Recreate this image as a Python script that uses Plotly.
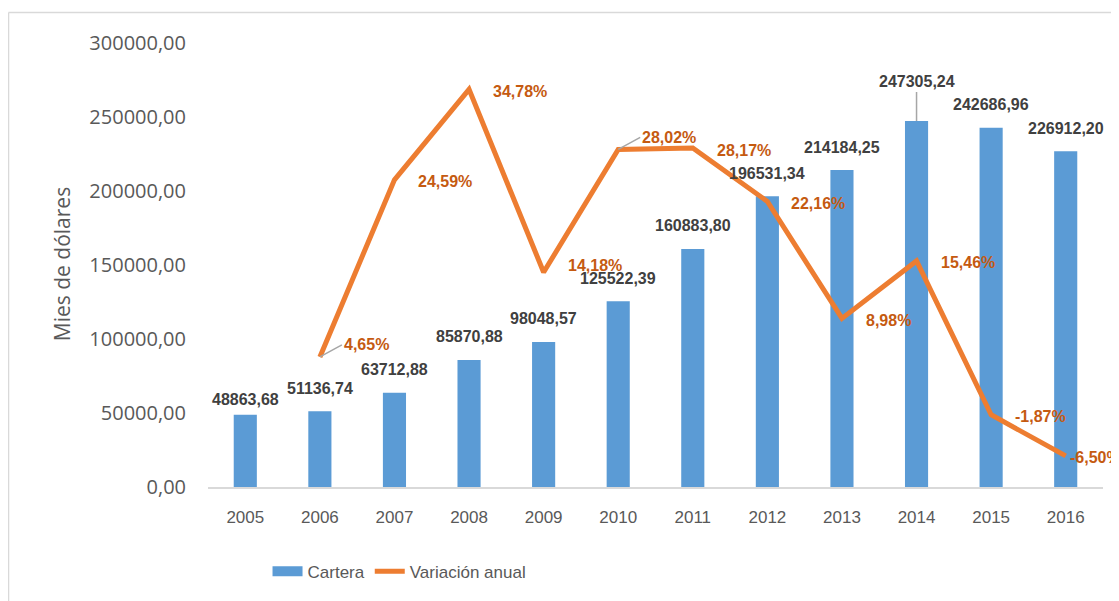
import plotly.graph_objects as go

# ---- data ----
years = [2005, 2006, 2007, 2008, 2009, 2010,
         2011, 2012, 2013, 2014, 2015, 2016]
cartera = [48863.68, 51136.74, 63712.88, 85870.88, 98048.57, 125522.39,
           160883.80, 196531.34, 214184.25, 247305.24, 242686.96, 226912.20]
variacion = [None, 4.65, 24.59, 34.78, 14.18, 28.02,
             28.17, 22.16, 8.98, 15.46, -1.87, -6.50]
y_ticks = [0, 50000, 100000, 150000, 200000, 250000, 300000]
series_names = ["Cartera", "Variación anual"]
y_title = "Mies de dólares"


def fmt_num(v):
    return f"{v:.2f}".replace(".", ",")


def fmt_pct(v):
    return f"{v:.2f}%".replace(".", ",")


BLUE = "#5B9BD5"
ORANGE = "#ED7D31"
PCT_COLOR = "#C55A11"
LBL_COLOR = "#404040"
AX_TEXT = "#595959"
SANS = "Liberation Sans"

fig = go.Figure()
fig.add_trace(go.Bar(x=years, y=cartera, name=series_names[0],
                     marker=dict(color=BLUE, line=dict(width=0)),
                     width=0.31, yaxis="y", showlegend=False))
# legend swatch for the bars (wide rectangle like the original)
fig.add_trace(go.Scatter(x=[None], y=[None], name=series_names[0],
                         mode="lines", line=dict(color=BLUE, width=14),
                         yaxis="y", legendrank=1))
fig.add_trace(go.Scatter(x=years, y=variacion, name=series_names[1],
                         mode="lines", line=dict(color=ORANGE, width=5),
                         yaxis="y2", legendrank=2))

annotations = []
# bar value labels
for yr, v in zip(years, cartera):
    common = dict(x=yr, y=v, xref="x", yref="y", text=fmt_num(v),
                  font=dict(family=SANS, size=16, color=LBL_COLOR, weight="bold"))
    if yr == 2014:
        annotations.append(dict(**common, showarrow=True, ax=0, ay=-39,
                                arrowhead=0, arrowwidth=1.5, arrowcolor="#A6A6A6",
                                xanchor="center", yanchor="middle", standoff=0))
    else:
        lift = 15 if yr == 2005 else 23
        annotations.append(dict(**common, showarrow=False, yanchor="middle", yshift=lift))

# percentage labels
for yr, v in zip(years, variacion):
    if v is None:
        continue
    common = dict(x=yr, y=v, xref="x", yref="y2", text=fmt_pct(v),
                  font=dict(family=SANS, size=16, color=PCT_COLOR, weight="bold"),
                  xanchor="left", yanchor="middle")
    if yr in (2006, 2010):
        annotations.append(dict(**common, showarrow=True, ax=22, ay=-12,
                                arrowhead=0, arrowwidth=1.5, arrowcolor="#A6A6A6",
                                standoff=0))
    else:
        xs = 2 if yr == 2016 else 22
        ys = 7 if yr == 2009 else -2
        annotations.append(dict(**common, showarrow=False, xshift=xs, yshift=ys))

# axis title
annotations.append(dict(x=-0.163, y=0.502, xref="paper", yref="paper",
                        text=y_title, textangle=-90, showarrow=False,
                        xanchor="center", yanchor="middle",
                        font=dict(family="Open Sans", size=21, color=AX_TEXT)))

fig.update_layout(
    width=1111, height=593,
    paper_bgcolor="white", plot_bgcolor="white",
    margin=dict(l=200, r=16, t=35, b=114, autoexpand=False),
    showlegend=True,
    legend=dict(orientation="h", x=0.214, xanchor="center", y=-0.191,
                yanchor="middle", font=dict(family=SANS, size=17, color=AX_TEXT),
                itemwidth=30, tracegroupgap=0, bgcolor="rgba(0,0,0,0)"),
    xaxis=dict(type="linear", range=[2004.5, 2016.5], tickvals=years,
               ticktext=[str(y) for y in years],
               showgrid=False, showline=True,
               linecolor="#D9D9D9", linewidth=1.5, ticks="",
               tickfont=dict(family=SANS, size=17, color=AX_TEXT),
               ticklabelstandoff=14, zeroline=False),
    yaxis=dict(range=[0, 300000], tickvals=y_ticks,
               ticktext=[fmt_num(t) for t in y_ticks],
               showgrid=False, showline=False, zeroline=False, ticks="",
               tickfont=dict(family="Open Sans", size=20, color=AX_TEXT),
               ticklabelstandoff=21),
    yaxis2=dict(range=[-10, 40], overlaying="y", side="right", visible=False,
                showgrid=False, zeroline=False),
    annotations=annotations,
    shapes=[
        dict(type="line", xref="paper", yref="paper", x0=-0.2229, x1=-0.2229,
             y0=-0.3, y1=1.0687, line=dict(color="#D9D9D9", width=1.5)),
        dict(type="line", xref="paper", yref="paper", x0=-0.2229, x1=1.05,
             y0=1.0687, y1=1.0687, line=dict(color="#D9D9D9", width=1.5)),
    ],
)

fig.write_html("out.html")
